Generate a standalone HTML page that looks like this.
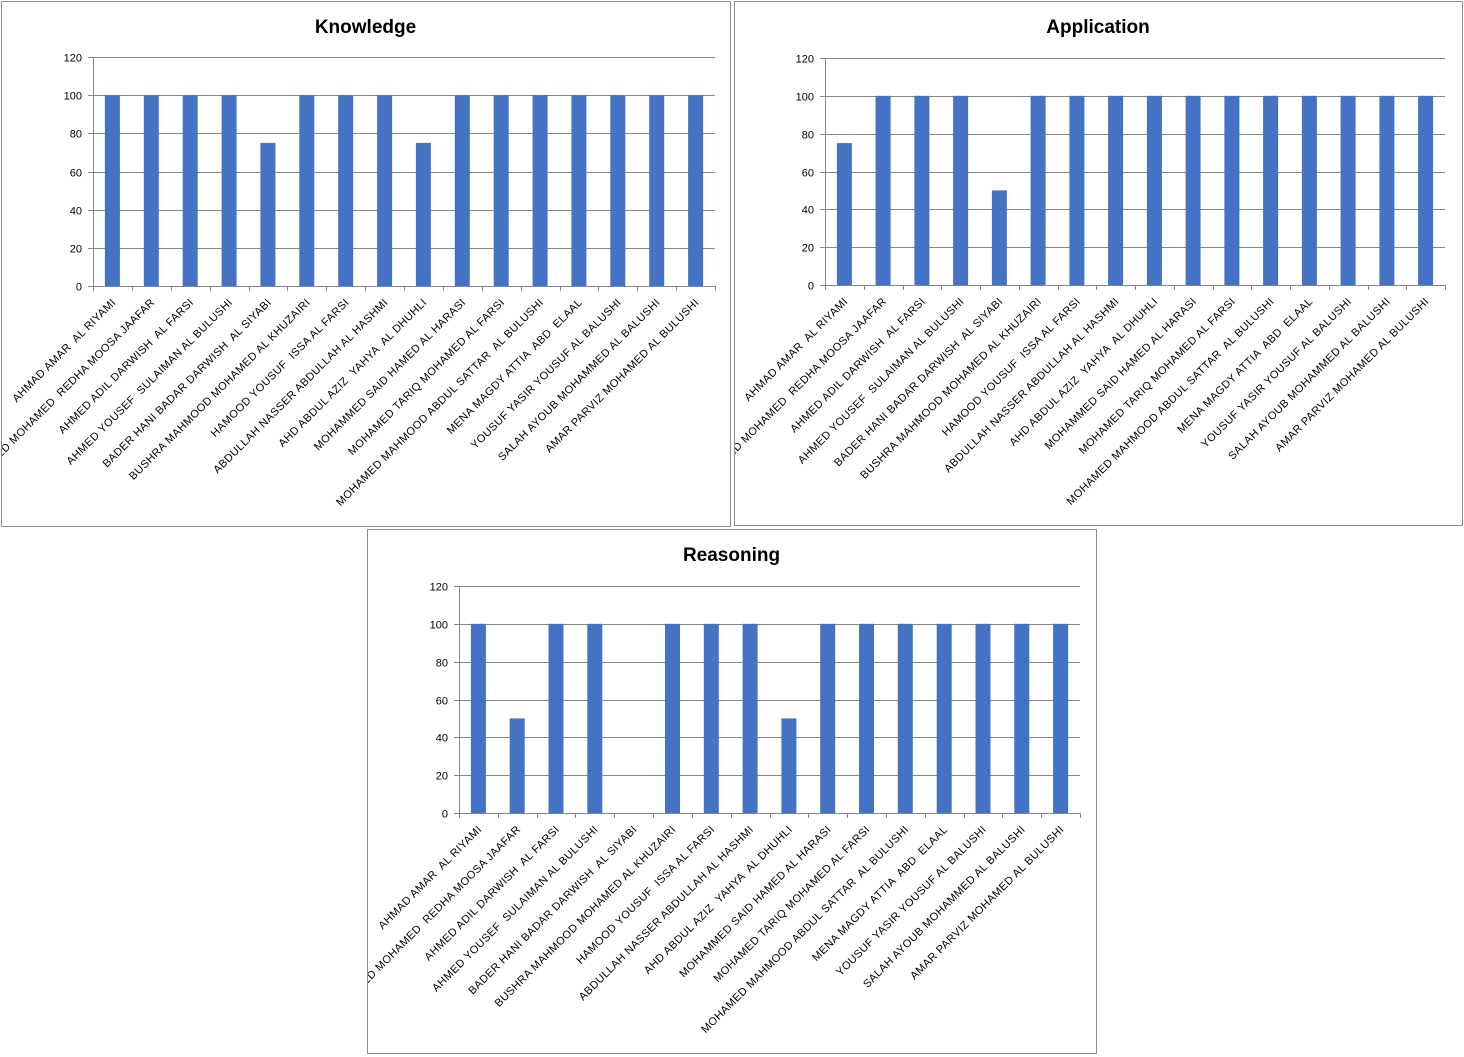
<!DOCTYPE html>
<html><head><meta charset="utf-8">
<style>
html,body{margin:0;padding:0;background:#fff;}
svg{display:block;font-family:"Liberation Sans",sans-serif;}
text{white-space:pre;}
</style></head>
<body>
<svg id="s" width="1464" height="1057" xmlns="http://www.w3.org/2000/svg"></svg>
<script>
const names=["AHMAD AMAR  AL RIYAMI","SAYED MOHAMED  REDHA MOOSA JAAFAR","AHMED ADIL DARWISH  AL FARSI","AHMED YOUSEF  SULAIMAN AL BULUSHI","BADER HANI BADAR DARWISH  AL SIYABI","BUSHRA MAHMOOD MOHAMED AL KHUZAIRI","HAMOOD YOUSUF  ISSA AL FARSI","ABDULLAH NASSER ABDULLAH AL HASHMI","AHD ABDUL AZIZ  YAHYA  AL DHUHLI","MOHAMMED SAID HAMED AL HARASI","MOHAMED TARIQ MOHAMED AL FARSI","MOHAMED MAHMOOD ABDUL SATTAR  AL BULUSHI","MENA MAGDY ATTIA  ABD  ELAAL","YOUSUF YASIR YOUSUF AL BALUSHI","SALAH AYOUB MOHAMMED AL BALUSHI","AMAR PARVIZ MOHAMED AL BULUSHI"];
const charts=[
 {t:"Knowledge",fx:1,fy:1,fw:729,fh:525,px:93,pr:715,py:57,pb:286,v:[100,100,100,100,75,100,100,100,75,100,100,100,100,100,100,100]},
 {t:"Application",fx:734,fy:1,fw:728,fh:524,px:825,pr:1445,py:58,pb:285,v:[75,100,100,100,50,100,100,100,100,100,100,100,100,100,100,100]},
 {t:"Reasoning",fx:367,fy:529,fw:729,fh:524,px:459,pr:1080,py:586,pb:813,v:[100,50,100,100,0,100,100,100,50,100,100,100,100,100,100,100]}
];
let h="";
charts.forEach((c,i)=>{
 h+=`<clipPath id="c${i}"><rect x="${c.fx+1}" y="${c.fy+1}" width="${c.fw-1}" height="${c.fh-1}"/></clipPath>`;
 h+=`<rect x="${c.fx+0.5}" y="${c.fy+0.5}" width="${c.fw}" height="${c.fh}" fill="#fff" stroke="#8c8c8c"/>`;
 const cx=(c.fx+c.fw/2);
 h+=`<text x="${cx}" y="${c.fy+32}" text-anchor="middle" font-weight="bold" font-size="19" fill="#000">${c.t}</text>`;
 const H=c.pb-c.py;
 for(let k=0;k<=6;k++){
  const y=Math.round(c.pb-H*k/6)+0.5;
  h+=`<line x1="${c.px-5}" x2="${c.pr}" y1="${y}" y2="${y}" stroke="#868686"/>`;
  h+=`<text x="${c.px-11}" y="${y+4}" text-anchor="end" font-size="11" fill="#000">${k*20}</text>`;
 }
 h+=`<line x1="${c.px+0.5}" x2="${c.px+0.5}" y1="${c.py}" y2="${c.pb}" stroke="#868686"/>`;
 const w=(c.pr-c.px)/16;
 for(let k=0;k<=16;k++){const x=Math.round(c.px+w*k)+0.5;h+=`<line x1="${x}" x2="${x}" y1="${c.pb}" y2="${c.pb+5}" stroke="#868686"/>`;}
 h+=`<g clip-path="url(#c${i})">`;
 c.v.forEach((v,k)=>{
  const m=c.px+w*(k+0.5);const bh=H*v/120;
  if(v>0)h+=`<rect x="${(m-7.5).toFixed(1)}" y="${(c.pb-bh).toFixed(1)}" width="15" height="${bh.toFixed(1)}" fill="#4472c4"/>`;
  const ax=m+4,ay=c.pb+17;
  h+=`<text x="${ax.toFixed(1)}" y="${ay}" text-anchor="end" font-size="11" letter-spacing="0.4" fill="#000" transform="rotate(-45 ${ax.toFixed(1)} ${ay})">${names[k]}</text>`;
 });
 h+=`</g>`;
});
document.getElementById("s").innerHTML=h;
</script>
</body></html>
